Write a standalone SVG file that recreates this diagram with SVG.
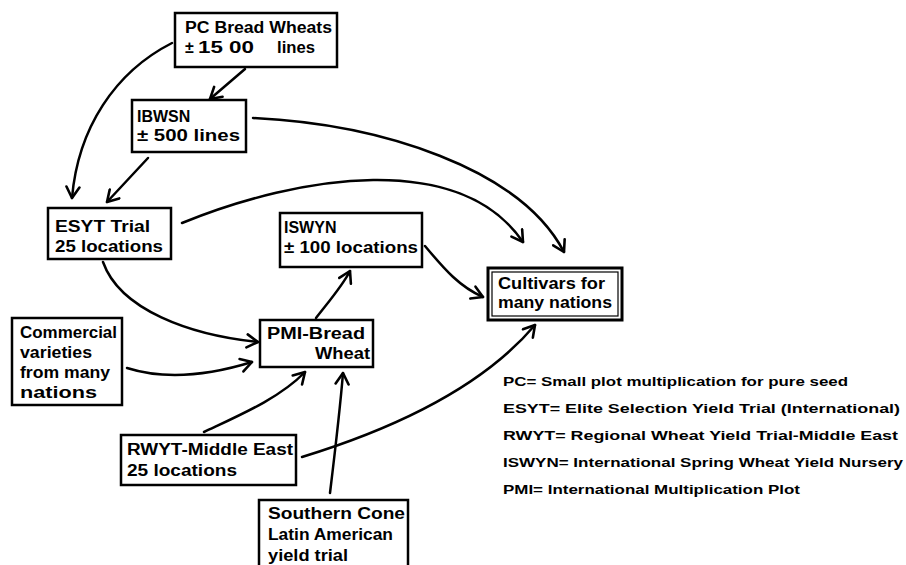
<svg xmlns="http://www.w3.org/2000/svg" width="906" height="565" viewBox="0 0 906 565">
<defs>
<style>
.box{fill:#fff;stroke:#000;stroke-width:2.5}
.t{font-family:"Liberation Sans",Arial,sans-serif;font-weight:bold;font-size:16px;fill:#000}
.lg{font-family:"Liberation Sans",Arial,sans-serif;font-weight:bold;font-size:13.5px;fill:#000}
.c{fill:none;stroke:#000;stroke-width:2.5;stroke-linecap:round}
</style>
<marker id="ah" viewBox="0 0 16 16" refX="14" refY="8" markerWidth="16" markerHeight="16" markerUnits="userSpaceOnUse" orient="auto">
<path d="M3,1.5 L14,8 L3,14.5" fill="none" stroke="#000" stroke-width="2.6" stroke-linecap="round" stroke-linejoin="round"/>
</marker>
</defs>
<rect width="906" height="565" fill="#fff"/>

<g id="connectors">
<path class="c" marker-end="url(#ah)" d="M172,43 C115,72 78,128 72,198"/>
<path class="c" marker-end="url(#ah)" d="M245,69 L210,99"/>
<path class="c" marker-end="url(#ah)" d="M148,158 L107,202"/>
<path class="c" marker-end="url(#ah)" d="M253,118 C380,124 520,168 564,252"/>
<path class="c" marker-end="url(#ah)" d="M182,223 C300,175 460,150 523,242"/>
<path class="c" marker-end="url(#ah)" d="M103,262 C120,310 190,335 258,342"/>
<path class="c" marker-end="url(#ah)" d="M127,368 C165,380 210,375 252,362"/>
<path class="c" marker-end="url(#ah)" d="M316,318 C330,300 343,285 350,271"/>
<path class="c" marker-end="url(#ah)" d="M425,246 C445,270 460,287 483,297"/>
<path class="c" marker-end="url(#ah)" d="M204,432 C240,415 280,398 305,372"/>
<path class="c" marker-end="url(#ah)" d="M330,493 C334,460 340,410 343,373"/>
<path class="c" marker-end="url(#ah)" d="M302,457 C390,430 480,390 535,325"/>
</g>

<g id="pc">
<rect class="box" x="175" y="13" width="162" height="54"/>
<text class="t" x="185" y="33" textLength="147" lengthAdjust="spacingAndGlyphs">PC Bread Wheats</text>
<text class="t" y="53"><tspan x="185">±</tspan><tspan x="198" textLength="56" lengthAdjust="spacingAndGlyphs">15 00</tspan><tspan x="277" textLength="38" lengthAdjust="spacingAndGlyphs">lines</tspan></text>
</g>

<g id="ibwsn">
<rect class="box" x="132" y="100" width="114" height="52"/>
<text class="t" x="137" y="122">IBWSN</text>
<text class="t" x="137" y="141" textLength="103" lengthAdjust="spacingAndGlyphs">± 500 lines</text>
</g>

<g id="esyt">
<rect class="box" x="48" y="208" width="123" height="51"/>
<text class="t" x="55" y="232" textLength="95" lengthAdjust="spacingAndGlyphs">ESYT Trial</text>
<text class="t" x="55" y="252" textLength="108" lengthAdjust="spacingAndGlyphs">25 locations</text>
</g>

<g id="iswyn">
<rect class="box" x="280" y="213" width="142" height="54"/>
<text class="t" x="284" y="233">ISWYN</text>
<text class="t" x="284" y="253" textLength="134" lengthAdjust="spacingAndGlyphs">± 100 locations</text>
</g>

<g id="cultivars">
<rect x="488" y="268" width="134" height="52" fill="#fff" stroke="#000" stroke-width="3"/>
<rect x="492" y="272" width="126" height="44" fill="none" stroke="#000" stroke-width="1.2"/>
<text class="t" x="498" y="289" textLength="107" lengthAdjust="spacingAndGlyphs">Cultivars for</text>
<text class="t" x="498" y="308" textLength="114" lengthAdjust="spacingAndGlyphs">many nations</text>
</g>

<g id="pmi">
<rect class="box" x="260" y="320" width="113" height="47"/>
<text class="t" x="267" y="339" textLength="98" lengthAdjust="spacingAndGlyphs">PMI-Bread</text>
<text class="t" x="315" y="359" textLength="55" lengthAdjust="spacingAndGlyphs">Wheat</text>
</g>

<g id="commercial">
<rect class="box" x="12" y="318" width="110" height="87"/>
<text class="t" x="20" y="338" textLength="97" lengthAdjust="spacingAndGlyphs">Commercial</text>
<text class="t" x="20" y="358" textLength="72" lengthAdjust="spacingAndGlyphs">varieties</text>
<text class="t" x="20" y="378" textLength="90" lengthAdjust="spacingAndGlyphs">from many</text>
<text class="t" x="20" y="398" textLength="77" lengthAdjust="spacingAndGlyphs">nations</text>
</g>

<g id="rwyt">
<rect class="box" x="121" y="435" width="175" height="50"/>
<text class="t" x="127" y="455" textLength="166" lengthAdjust="spacingAndGlyphs">RWYT-Middle East</text>
<text class="t" x="127" y="476" textLength="110" lengthAdjust="spacingAndGlyphs">25 locations</text>
</g>

<g id="southern">
<rect class="box" x="259" y="500" width="149" height="75"/>
<text class="t" x="268" y="519" textLength="137" lengthAdjust="spacingAndGlyphs">Southern Cone</text>
<text class="t" x="268" y="540" textLength="125" lengthAdjust="spacingAndGlyphs">Latin American</text>
<text class="t" x="268" y="561" textLength="80" lengthAdjust="spacingAndGlyphs">yield trial</text>
</g>

<g id="legend">
<text class="lg" x="503" y="386" textLength="345" lengthAdjust="spacingAndGlyphs">PC= Small plot multiplication for pure seed</text>
<text class="lg" x="503" y="413" textLength="397" lengthAdjust="spacingAndGlyphs">ESYT= Elite Selection Yield Trial (International)</text>
<text class="lg" x="503" y="440" textLength="395" lengthAdjust="spacingAndGlyphs">RWYT= Regional Wheat Yield Trial-Middle East</text>
<text class="lg" x="503" y="467" textLength="400" lengthAdjust="spacingAndGlyphs">ISWYN= International Spring Wheat Yield Nursery</text>
<text class="lg" x="503" y="494" textLength="297" lengthAdjust="spacingAndGlyphs">PMI= International Multiplication Plot</text>
</g>
</svg>
